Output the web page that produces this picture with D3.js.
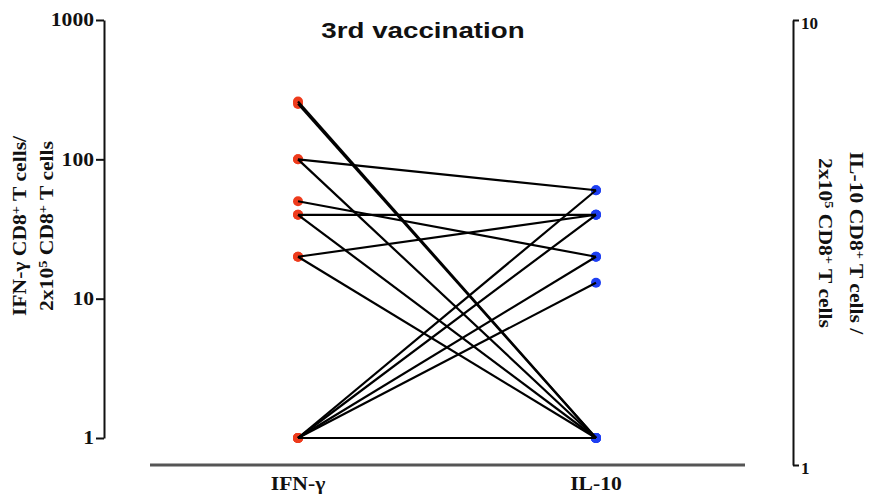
<!DOCTYPE html>
<html>
<head>
<meta charset="utf-8">
<script src="https://cdn.jsdelivr.net/npm/d3@7/dist/d3.min.js"></script>
<style>
  html, body { margin: 0; padding: 0; background: #fff; }
  svg { display: block; }
  .serif { font-family: "Liberation Serif", "DejaVu Serif", serif; font-weight: bold; }
</style>
</head>
<body>
<svg id="chart" width="870" height="496"></svg>
<script>
// Paired measurements per subject after the 3rd vaccination
const groups = ["IFN-γ", "IL-10"];
const ifngValues = [260, 250, 100, 100, 50, 40, 40, 20, 20, 1, 1, 1, 1, 1];
const il10Values = [1, 1, 60, 1, 20, 40, 1, 40, 1, 60, 40, 20, 13, 1];
const leftTicks = [1, 10, 100, 1000];
const rightTicks = [1, 10];

const svg = d3.select("#chart");
const STRETCH = 1.2; // wide serif lettering

const x = d3.scalePoint().domain(groups).range([298, 596]);
const y = d3.scaleLog().domain([1, 1000]).range([438, 20]);
const yRight = d3.scaleLog().domain([1, 10]).range([465, 20]);

// Left axis
const leftAxis = svg.append("g")
  .attr("transform", "translate(104,0)")
  .call(d3.axisLeft(y).tickValues(leftTicks).tickFormat(d3.format("d")).tickSize(8).tickSizeOuter(0).tickPadding(2));
leftAxis.select(".domain").attr("stroke", "#111").attr("stroke-width", 2);
leftAxis.selectAll(".tick line").attr("stroke", "#111").attr("stroke-width", 2);
leftAxis.selectAll(".tick text").attr("class", "serif").attr("font-size", 18).attr("fill", "#111")
  .attr("x", -10 / STRETCH)
  .attr("transform", `scale(${STRETCH},1)`);

// Right axis
const rightAxis = svg.append("g")
  .attr("transform", "translate(793,0)")
  .call(d3.axisRight(yRight).tickValues(rightTicks).tickFormat(d3.format("d")).tickSize(6).tickSizeOuter(0).tickPadding(2));
rightAxis.select(".domain").attr("stroke", "#111").attr("stroke-width", 2);
rightAxis.selectAll(".tick line").attr("stroke", "#111").attr("stroke-width", 2);
rightAxis.selectAll(".tick text").attr("class", "serif").attr("font-size", 17).attr("fill", "#111")
  .attr("dy", "0.5em");

// Bottom baseline with group labels
svg.append("line")
  .attr("x1", 150).attr("x2", 745)
  .attr("y1", 465).attr("y2", 465)
  .attr("stroke", "#555").attr("stroke-width", 3);
svg.append("g").selectAll("text")
  .data(groups)
  .join("text")
  .attr("class", "serif")
  .attr("transform", d => `translate(${x(d)},490) scale(${STRETCH},1)`)
  .attr("text-anchor", "middle")
  .attr("font-size", 18)
  .attr("fill", "#111")
  .text(d => d);

// Points
const pairs = ifngValues.map((v, i) => ({ a: v, b: il10Values[i] }));
svg.append("g").selectAll("circle")
  .data(ifngValues)
  .join("circle")
  .attr("cx", x(groups[0]))
  .attr("cy", d => y(d))
  .attr("r", 5)
  .attr("fill", "#ee3b1c");
svg.append("g").selectAll("circle")
  .data(il10Values)
  .join("circle")
  .attr("cx", x(groups[1]))
  .attr("cy", d => y(d))
  .attr("r", 5)
  .attr("fill", "#1e3ff2");

// Connecting lines
svg.append("g").selectAll("line")
  .data(pairs)
  .join("line")
  .attr("x1", x(groups[0]))
  .attr("y1", d => y(d.a))
  .attr("x2", x(groups[1]))
  .attr("y2", d => y(d.b))
  .attr("stroke", "#000")
  .attr("stroke-width", 2.2);

// Title
svg.append("text")
  .attr("transform", "translate(423,38) scale(1.26,1)")
  .attr("text-anchor", "middle")
  .attr("font-family", "Liberation Sans, Arial, sans-serif")
  .attr("font-weight", "bold")
  .attr("font-size", 22)
  .attr("fill", "#111")
  .text("3rd vaccination");

const sup = t => `<tspan baseline-shift="super" font-size="12">${t}</tspan>`;

// Left axis title
const leftTitle = svg.append("g")
  .attr("transform", `translate(0,226) rotate(-90) scale(${STRETCH},1)`);
leftTitle.append("text").attr("class", "serif")
  .attr("x", 0).attr("y", 26).attr("text-anchor", "middle")
  .attr("font-size", 18).attr("fill", "#111")
  .html(`IFN-γ CD8${sup("+")} T cells/`);
leftTitle.append("text").attr("class", "serif")
  .attr("x", 0).attr("y", 53).attr("text-anchor", "middle")
  .attr("font-size", 18).attr("fill", "#111")
  .html(`2x10${sup("5")} CD8${sup("+")} T cells`);

// Right axis title
const rightTitle = svg.append("g")
  .attr("transform", `translate(870,243) rotate(90) scale(${STRETCH},1)`);
rightTitle.append("text").attr("class", "serif")
  .attr("x", 0).attr("y", 20).attr("text-anchor", "middle")
  .attr("font-size", 18).attr("fill", "#111")
  .html(`IL-10 CD8${sup("+")} T cells /`);
rightTitle.append("text").attr("class", "serif")
  .attr("x", 0).attr("y", 51).attr("text-anchor", "middle")
  .attr("font-size", 18).attr("fill", "#111")
  .html(`2x10${sup("5")} CD8${sup("+")} T cells`);
</script>
</body>
</html>
